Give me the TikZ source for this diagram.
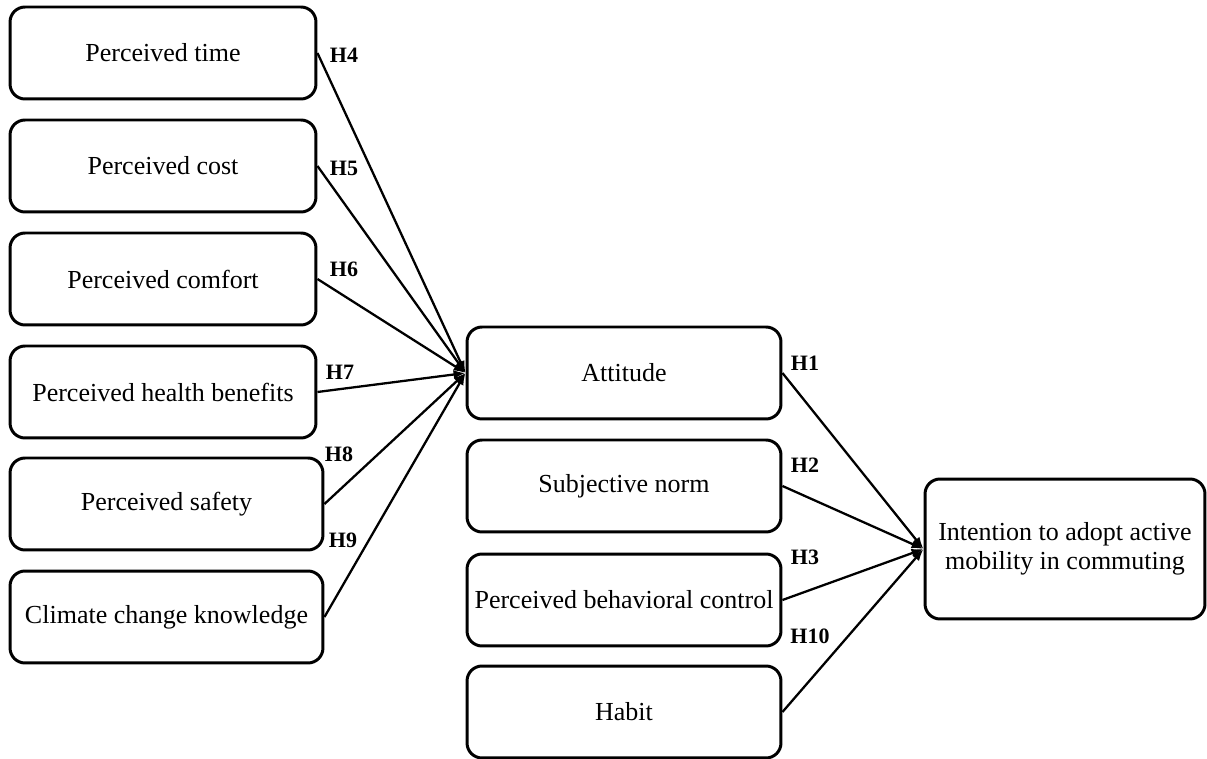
\documentclass[tikz,border=0pt]{standalone}
\usepackage{fontspec}
\setmainfont{Liberation Serif}
\usetikzlibrary{arrows.meta, positioning}

\begin{document}
\begin{tikzpicture}[x=0.02cm, y=-0.02cm,
    box/.style={draw, line width=1.7pt, rounded corners=0.3cm, minimum height=1.84cm,
        minimum width=6.12cm, align=center, inner sep=0pt, font=\fontsize{14.8}{16.5}\selectfont},
    hyp/.style={font=\fontsize{12.5}{14}\selectfont\bfseries, inner sep=0pt},
    link/.style={line width=1.3pt, -{Latex[length=0.24cm, width=0.18cm]}}]
    \useasboundingbox (0,0) rectangle (1207,759);

    % antecedents
    \node[box] (tim) at (163,53) {Perceived time};
    \node[box] (cost) at (163,166) {Perceived cost};
    \node[box] (comf) at (163,279) {Perceived comfort};
    \node[box] (hlth) at (163,392) {Perceived health benefits};
    \node[box, minimum width=6.26cm] (safe) at (166.5,504) {Perceived safety};
    \node[box, minimum width=6.26cm] (clim) at (166.5,617) {Climate change knowledge};

    % TPB constructs
    \node[box, minimum width=6.28cm] (att) at (624,373) {Attitude};
    \node[box, minimum width=6.28cm] (sub) at (624,486) {Subjective norm};
    \node[box, minimum width=6.28cm] (pbc) at (624,600) {Perceived behavioral control};
    \node[box, minimum width=6.28cm] (hab) at (624,712) {Habit};

    \node[box, minimum width=5.6cm, minimum height=2.8cm] (int) at (1065,549)
        {Intention to adopt active\\mobility in commuting};

    \draw[link] (tim.east) -- (att.west);
    \draw[link] (cost.east) -- (att.west);
    \draw[link] (comf.east) -- (att.west);
    \draw[link] (hlth.east) -- (att.west);
    \draw[link] (safe.east) -- (att.west);
    \draw[link] (clim.east) -- (att.west);

    \draw[link] (att.east) -- (int.west);
    \draw[link] (sub.east) -- (int.west);
    \draw[link] (pbc.east) -- (int.west);
    \draw[link] (hab.east) -- (int.west);

    % hypotheses
    \node[hyp] (h4) at (344,55) {H4};
    \node[hyp] (h5) at (344,168) {H5};
    \node[hyp] (h6) at (344,269) {H6};
    \node[hyp] (h7) at (340,372) {H7};
    \node[hyp] (h8) at (339,454) {H8};
    \node[hyp] (h9) at (343,540) {H9};
    \node[hyp] (h1) at (805,363) {H1};
    \node[hyp] (h2) at (805,465) {H2};
    \node[hyp] (h3) at (805,557) {H3};
    \node[hyp] (h10) at (810,636) {H10};
\end{tikzpicture}
\end{document}
